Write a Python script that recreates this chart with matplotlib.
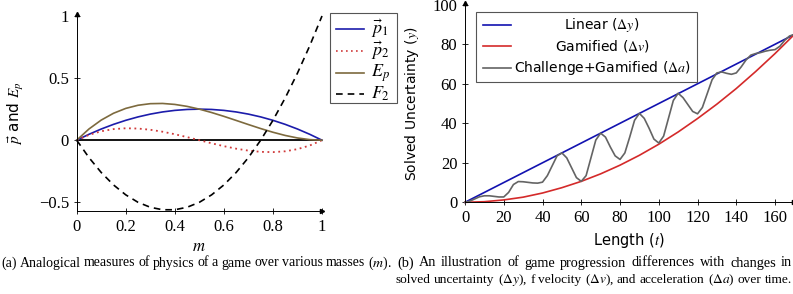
import matplotlib
matplotlib.use('Agg')
import matplotlib.pyplot as plt
import matplotlib.transforms as mtransforms
from matplotlib.patches import Rectangle
from matplotlib.lines import Line2D

plt.rcParams['mathtext.fontset'] = 'stix'
plt.rcParams['font.family'] = ['Liberation Serif', 'DejaVu Serif']

W, H = 793, 294
SANS = ['DejaVu Sans']

# ---- (a) physics measures over mass m
m_vals = [0, 0.05, 0.1, 0.15, 0.2, 0.25, 0.3, 0.35, 0.4, 0.45, 0.5,
          0.55, 0.6, 0.65, 0.7, 0.75, 0.8, 0.85, 0.9, 0.95, 1]
p1_vals = [0, 0.0475, 0.09, 0.1275, 0.16, 0.1875, 0.21, 0.2275, 0.24, 0.2475, 0.25,
           0.2475, 0.24, 0.2275, 0.21, 0.1875, 0.16, 0.1275, 0.09, 0.0475, 0]
p2_vals = [0, 0.0428, 0.072, 0.0893, 0.096, 0.0938, 0.084, 0.0683, 0.048, 0.0248, 0,
           -0.0248, -0.048, -0.0683, -0.084, -0.0938, -0.096, -0.0893, -0.072, -0.0428, 0]
ep_vals = [0, 0.0903, 0.162, 0.2168, 0.256, 0.2813, 0.294, 0.2958, 0.288, 0.2723, 0.25,
           0.2227, 0.192, 0.1592, 0.126, 0.0937, 0.064, 0.0382, 0.018, 0.0047, 0]
f2_vals = [0, -0.14, -0.26, -0.36, -0.44, -0.5, -0.54, -0.56, -0.56, -0.54, -0.5,
           -0.44, -0.36, -0.26, -0.14, 0, 0.16, 0.34, 0.54, 0.76, 1]
a_xticks = [0, 0.2, 0.4, 0.6, 0.8, 1]
a_xticklabels = ['0', '0.2', '0.4', '0.6', '0.8', '1']
a_yticks = [-0.5, 0, 0.5, 1]
a_yticklabels = ['\u22120.5', '0', '0.5', '1']

# ---- (b) game progression over length t
lin_t = [0, 170]
lin_y = [0, 85]
gam_t = [0, 10, 20, 30, 40, 50, 60, 70, 80, 90, 100, 110, 120, 130, 140, 150, 160, 170]
gam_y = [0, 0.3, 1.2, 2.6, 4.7, 7.4, 10.6, 14.4, 18.8, 23.8, 29.4, 35.6, 42.4, 49.7,
         57.6, 66.2, 75.3, 85]
chal_t = [0, 2.5, 5, 7.5, 10, 12.5, 15, 17.5, 20, 22.5, 25, 27.5, 30, 32.5, 35, 37.5,
          40, 42.5, 45, 47.5, 50, 52.5, 55, 57.5, 60, 62.5, 65, 67.5, 70, 72.5, 75, 77.5,
          80, 82.5, 85, 87.5, 90, 92.5, 95, 97.5, 100, 102.5, 105, 107.5, 110, 112.5, 115,
          117.5, 120, 122.5, 125, 127.5, 130, 132.5, 135, 137.5, 140, 142.5, 145, 147.5,
          150, 152.5, 155, 157.5, 160, 162.5, 165, 167.5, 170]
chal_y = [0, 0.6, 1.7, 2.8, 3.3, 3.3, 3.0, 2.7, 2.7, 5.0, 9.0, 10.5, 10.4, 10.1, 9.8, 9.7,
          10.2, 13.5, 18.5, 23.5, 25, 22.5, 17.5, 12.5, 10.6, 13.5, 22.5, 31.5, 35, 33, 28, 23.5,
          21.7, 25, 33, 41.5, 45, 42.5, 37.5, 32, 30, 33.5, 42.5, 51.5, 55.2, 53, 49.5,
          46, 44.8, 48, 55, 62, 65.5, 66, 65.3, 64.8, 65.5, 68.5, 72, 74.5,
          75.3, 75.8, 76.5, 77, 77.3, 79, 82, 84.2, 85]
b_xticks = [0, 20, 40, 60, 80, 100, 120, 140, 160]
b_yticks = [0, 20, 40, 60, 80, 100]

# caption lines, word by word
cap_a = ['(a)', 'Analogical', 'measures', 'of', 'physics', 'of', 'a', 'game', 'over',
         'various', 'masses', r'($m$).']
cap_b1 = ['(b)', 'An', 'illustration', 'of', 'game', 'progression', 'differences',
          'with', 'changes', 'in']
cap_b2 = ['solved', 'uncertainty', r'($\Delta y$),', 'f', 'velocity', r'($\Delta v$),',
          'and', 'acceleration', r'($\Delta a$)', 'over', 'time.']

fig = plt.figure(figsize=(W / 100, H / 100), dpi=100)
# pixel coordinates, origin top-left
pxt = mtransforms.Affine2D().scale(1 / W, -1 / H).translate(0, 1) + fig.transFigure


def axes_px(x0, y_top, x1, y_bot):
    return fig.add_axes([x0 / W, 1 - y_bot / H, (x1 - x0) / W, (y_bot - y_top) / H])


def style_axes(ax):
    for s in ['top', 'right']:
        ax.spines[s].set_visible(False)
    for s in ['left', 'bottom']:
        ax.spines[s].set_linewidth(0.7)
    ax.tick_params(direction='inout', length=5, width=0.6, labelsize=12, pad=3)
    ax.plot(0, 1, marker='^', ms=3, color='k', transform=ax.transAxes, clip_on=False)
    ax.plot(1, 0, marker='>', ms=3, color='k', transform=ax.transAxes, clip_on=False)


# ---------- chart (a)
ax1 = axes_px(76.7, 13.5, 322, 211)
ax1.axhline(0, color='k', lw=1.3)
ax1.plot(m_vals, p1_vals, color='#1c1cab', lw=1.2, clip_on=False)
ax1.plot(m_vals, p2_vals, color='#d03a3a', lw=1.3, ls=(0, (1, 2)), clip_on=False)
ax1.plot(m_vals, ep_vals, color='#7d6a3e', lw=1.2, clip_on=False)
ax1.plot(m_vals, f2_vals, color='k', lw=1.2, ls=(0, (4, 3)), clip_on=False)
ax1.set_xlim(0, 1)
ax1.set_ylim(-0.57, 1.02)
ax1.set_xticks(a_xticks)
ax1.set_xticklabels(a_xticklabels)
ax1.set_yticks(a_yticks)
ax1.set_yticklabels(a_yticklabels)
style_axes(ax1)
fig.text(16, 113, r'$\vec{p}$ and $E_p$', transform=pxt, rotation=90, ha='center',
         va='center', fontsize=11, family=SANS)
fig.text(199, 247, r'$m$', transform=pxt, ha='center', va='center', fontsize=12)

# legend (a)
fig.add_artist(Rectangle((330, 13), 67, 90, transform=pxt, fill=True, fc='white',
                         ec='#555555', lw=0.8))
leg_a = [('#1c1cab', '-', r'$\vec{p}_1$'), ('#d03a3a', (0, (1, 2)), r'$\vec{p}_2$'),
         ('#7d6a3e', '-', r'$E_p$'), ('k', (0, (4, 3)), r'$F_2$')]
for i, (c, ls, lab) in enumerate(leg_a):
    yy = [29, 51, 73, 94][i]
    fig.add_artist(Line2D([336, 364], [yy, yy], transform=pxt, color=c, ls=ls, lw=1.2))
    fig.text(371, yy, lab, transform=pxt, ha='left', va='center', fontsize=13)

# ---------- chart (b)
ax2 = axes_px(465, 2.8, 794.4, 202.3)
ax2.plot(lin_t, lin_y, color='#1212b0', lw=1.2, clip_on=False)
ax2.plot(gam_t, gam_y, color='#d42a2a', lw=1.2, clip_on=False)
ax2.plot(chal_t, chal_y, color='#646464', lw=1.2, clip_on=False)
ax2.set_xlim(0, 170)
ax2.set_ylim(0, 101)
ax2.set_xticks(b_xticks)
ax2.set_yticks(b_yticks)
style_axes(ax2)
fig.text(412, 104, r'Solved Uncertainty ($y$)', transform=pxt, rotation=90, ha='center',
         va='center', fontsize=10, family=SANS)
fig.text(629, 240, r'Length ($t$)', transform=pxt, ha='center', va='center',
         fontsize=10.5, family=SANS)

# legend (b)
fig.add_artist(Rectangle((476, 12), 221, 70, transform=pxt, fill=True, fc='white',
                         ec='#555555', lw=0.8))
leg_b = [('#1212b0', r'Linear ($\Delta y$)'), ('#d42a2a', r'Gamified ($\Delta v$)'),
         ('#646464', r'Challenge+Gamified ($\Delta a$)')]
for i, (c, lab) in enumerate(leg_b):
    yy = [25, 46, 68][i]
    fig.add_artist(Line2D([483, 511], [yy, yy], transform=pxt, color=c, lw=1.2))
    fig.text(602, yy, lab, transform=pxt, ha='center', va='center', fontsize=10, family=SANS)

# ---------- captions
renderer = fig.canvas.get_renderer()


def justify(words, x0, x1, y, size):
    texts = [fig.text(0, 0, w, transform=pxt, fontsize=size, ha='left', va='center')
             for w in words]
    # shrink until the words fit with a normal space between them
    while True:
        widths = [t.get_window_extent(renderer).width for t in texts]
        gap = (x1 - x0 - sum(widths)) / (len(words) - 1)
        if gap >= 3 or size < 7:
            break
        size -= 0.1
        for t in texts:
            t.set_fontsize(size)
    x = x0
    for t, w in zip(texts, widths):
        t.set_position((x, y))
        x += w + gap


justify(cap_a, 1, 392, 263, 10.3)
justify(cap_b1, 397, 792, 263, 10.3)
justify(cap_b2, 396, 792, 280, 10.3)

fig.savefig('out.png', dpi=100)
